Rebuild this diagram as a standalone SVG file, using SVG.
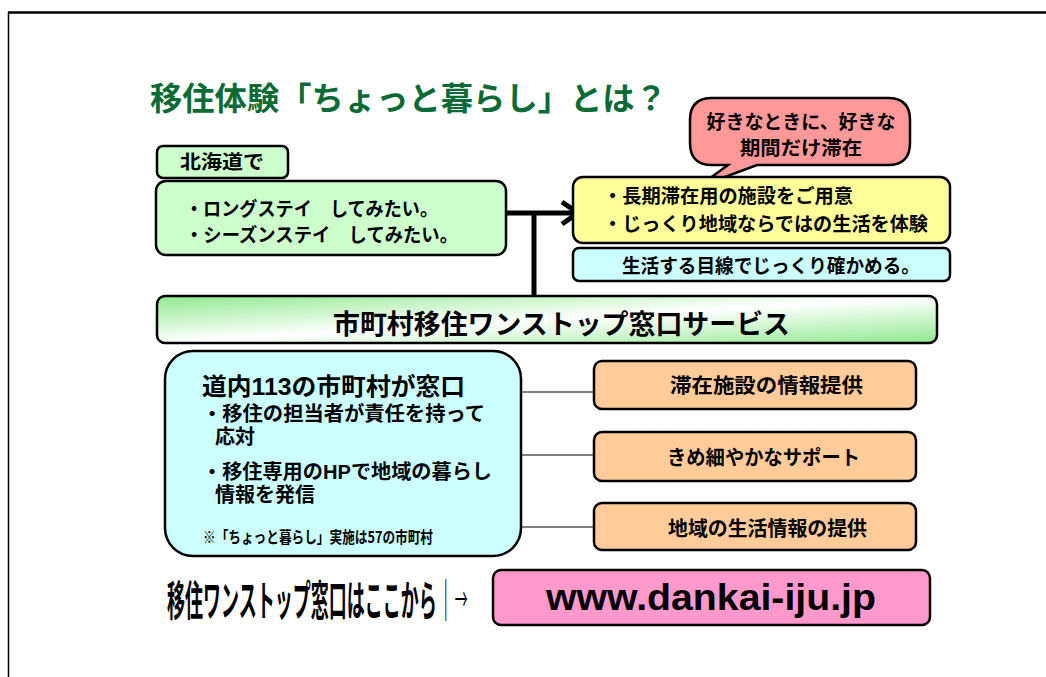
<svg xmlns="http://www.w3.org/2000/svg" width="1046" height="677" viewBox="0 0 1046 677">
<defs>
<style>
.jp{font-family:"Noto Sans CJK JP","Noto Sans CJK SC",sans-serif;font-weight:bold;fill:#000}
.jl{font-family:"Liberation Sans","Noto Sans CJK JP",sans-serif;font-weight:bold;fill:#000}
.box{stroke:#000;stroke-width:2.5}
.conn{stroke:#000;fill:none}
</style>
<linearGradient id="barg" x1="0" y1="0" x2="1" y2="1">
<stop offset="0" stop-color="#8fe88f"/>
<stop offset="0.5" stop-color="#ffffff"/>
<stop offset="1" stop-color="#8fe88f"/>
</linearGradient>
</defs>
<rect width="1046" height="677" fill="#fff"/>
<g id="frame">
<line x1="8" y1="12.5" x2="1046" y2="12.5" stroke="#000" stroke-width="2.5"/>
<line x1="8.5" y1="12" x2="8.5" y2="677" stroke="#000" stroke-width="1.5"/>
</g>
<g id="title">
<text class="jp" x="150" y="110" font-size="32" style="fill:#0b6b35" textLength="517" lengthAdjust="spacingAndGlyphs">移住体験「ちょっと暮らし」とは？</text>
</g>
<g id="connectors">
<line class="conn" x1="491" y1="213" x2="578" y2="213" stroke-width="5"/>
<polyline class="conn" points="562,202 578,213 562,224" stroke-width="5"/>
<line class="conn" x1="534" y1="213" x2="534" y2="304" stroke-width="5"/>
<line class="conn" x1="521" y1="392" x2="595" y2="392" stroke-width="1.2"/>
<line class="conn" x1="521" y1="455" x2="595" y2="455" stroke-width="1.2"/>
<line class="conn" x1="521" y1="527" x2="595" y2="527" stroke-width="1.2"/>
</g>
<g id="node-hokkaido">
<rect class="box" x="157" y="146" width="131" height="32" rx="6" fill="#ccffcc" stroke-width="2"/>
<text class="jp" x="222" y="169" font-size="19" text-anchor="middle" textLength="84" lengthAdjust="spacingAndGlyphs">北海道で</text>
</g>
<g id="node-wish">
<rect class="box" x="156" y="181" width="350" height="74" rx="10" fill="#ccffcc"/>
<text class="jp" x="185" y="216" font-size="19" textLength="253" lengthAdjust="spacingAndGlyphs">・ロングステイ　してみたい。</text>
<text class="jp" x="185" y="242" font-size="19" textLength="273" lengthAdjust="spacingAndGlyphs">・シーズンステイ　してみたい。</text>
</g>
<g id="node-bubble">
<path class="box" d="M712 98 H888 Q910 98 910 120 V143 Q910 165 888 165 H757 L698 187 L728 165 H712 Q690 165 690 143 V120 Q690 98 712 98 Z" fill="#ff9999" stroke-width="2"/>
<text class="jp" x="801" y="129" font-size="19" text-anchor="middle" textLength="189" lengthAdjust="spacingAndGlyphs">好きなときに、好きな</text>
<text class="jp" x="801" y="155" font-size="19" text-anchor="middle" textLength="122" lengthAdjust="spacingAndGlyphs">期間だけ滞在</text>
</g>
<g id="node-facility">
<rect class="box" x="573" y="177" width="377" height="66" rx="10" fill="#ffff99" stroke-width="3"/>
<text class="jp" x="603" y="203" font-size="19" textLength="250" lengthAdjust="spacingAndGlyphs">・長期滞在用の施設をご用意</text>
<text class="jp" x="603" y="231" font-size="19" textLength="325" lengthAdjust="spacingAndGlyphs">・じっくり地域ならではの生活を体験</text>
</g>
<g id="node-check">
<rect class="box" x="573" y="248" width="377" height="33" rx="6" fill="#ccffff" stroke-width="3"/>
<text class="jp" x="622" y="273" font-size="19" textLength="298" lengthAdjust="spacingAndGlyphs">生活する目線でじっくり確かめる。</text>
</g>
<g id="node-onestop">
<rect class="box" x="157" y="296" width="780" height="47" rx="8" fill="url(#barg)" stroke-width="3"/>
<text class="jp" x="333" y="334" font-size="27" textLength="457" lengthAdjust="spacingAndGlyphs">市町村移住ワンストップ窓口サービス</text>
</g>
<g id="node-municipal">
<rect class="box" x="165" y="351" width="356" height="205" rx="28" fill="#ccffff" stroke-width="3"/>
<text class="jl" x="202" y="395" font-size="24" textLength="263" lengthAdjust="spacingAndGlyphs">道内113の市町村が窓口</text>
<text class="jl" x="202" y="421" font-size="20" textLength="283" lengthAdjust="spacingAndGlyphs">・移住の担当者が責任を持って</text>
<text class="jl" x="215" y="444" font-size="20" textLength="40" lengthAdjust="spacingAndGlyphs">応対</text>
<text class="jl" x="202" y="479" font-size="20" textLength="290" lengthAdjust="spacingAndGlyphs">・移住専用のHPで地域の暮らし</text>
<text class="jl" x="215" y="502" font-size="20" textLength="100" lengthAdjust="spacingAndGlyphs">情報を発信</text>
<text class="jp" x="203" y="543" font-size="16" textLength="230" lengthAdjust="spacingAndGlyphs">※「ちょっと暮らし」実施は57の市町村</text>
</g>
<g id="node-info1">
<rect class="box" x="594" y="361" width="322" height="48" rx="8" fill="#ffcc99" stroke-width="3"/>
<text class="jp" x="670" y="393" font-size="20" textLength="193" lengthAdjust="spacingAndGlyphs">滞在施設の情報提供</text>
</g>
<g id="node-support">
<rect class="box" x="594" y="432" width="322" height="49" rx="8" fill="#ffcc99" stroke-width="3"/>
<text class="jp" x="667" y="465" font-size="20" textLength="193" lengthAdjust="spacingAndGlyphs">きめ細やかなサポート</text>
</g>
<g id="node-life">
<rect class="box" x="594" y="503" width="322" height="47" rx="8" fill="#ffcc99" stroke-width="3"/>
<text class="jp" x="668" y="536" font-size="20" textLength="199" lengthAdjust="spacingAndGlyphs">地域の生活情報の提供</text>
</g>
<g id="node-guide">
<text class="jp" transform="translate(167,616) scale(0.4288,1)" x="0" y="0" font-size="42">移住ワンストップ窓口はここから｜<tspan font-size="30" dy="-6" style="font-weight:normal">→</tspan></text>
</g>
<g id="node-url">
<rect class="box" x="493" y="570" width="437" height="55" rx="8" fill="#ff99cc" stroke-width="3"/>
<text x="546" y="610" font-family="'Liberation Sans',Arial,sans-serif" font-weight="bold" font-size="37" textLength="330" lengthAdjust="spacingAndGlyphs">www.dankai-iju.jp</text>
</g>
</svg>
